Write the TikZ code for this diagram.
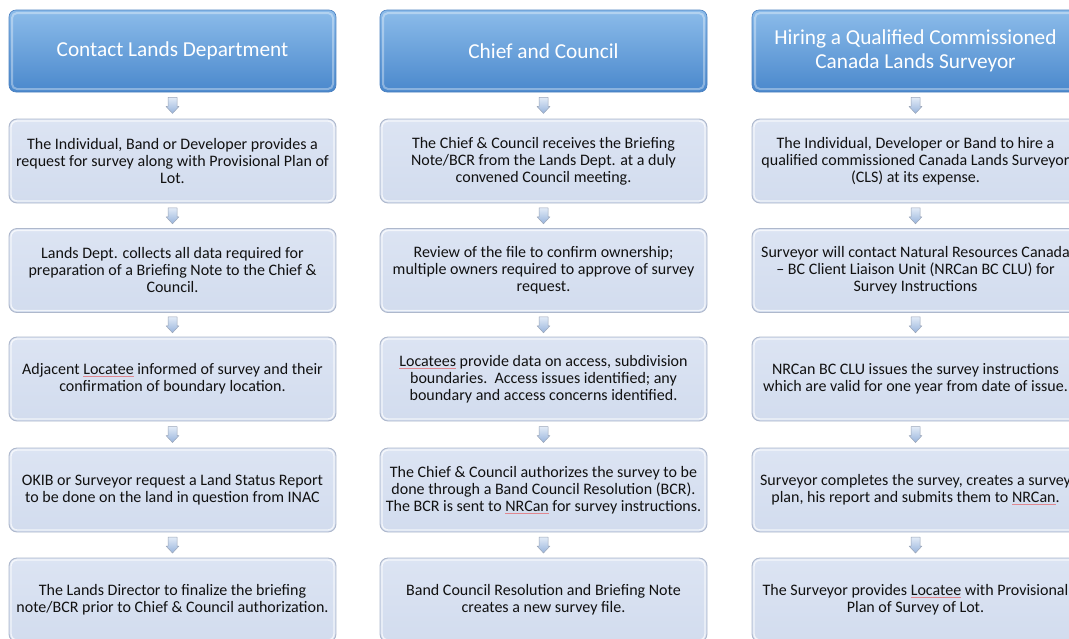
\documentclass[tikz,border=0pt]{standalone}
\usepackage{fontspec}
\setmainfont{Carlito}
\usetikzlibrary{calc}

\definecolor{hdrtop}{HTML}{8CBCEA}
\definecolor{hdrmid}{HTML}{5B9BD6}
\definecolor{hdrbot}{HTML}{4A88CC}
\definecolor{hdredge}{HTML}{4A7FBF}
\definecolor{boxtop}{HTML}{DCE4F3}
\definecolor{boxbot}{HTML}{D2DCEE}
\definecolor{boxedge}{HTML}{AEB8CC}
\definecolor{arrtop}{HTML}{E2EBF7}
\definecolor{arrbot}{HTML}{98B4DC}
\definecolor{arredge}{HTML}{9AA5B8}
\definecolor{spell}{HTML}{E08890}
\definecolor{bodytext}{HTML}{111111}

% faint spell-check underline under flagged words
\newcommand{\flag}[1]{{\color{spell}\underline{\textcolor{bodytext}{#1}}}}

\tikzset{
  header/.style={
    rounded corners=7pt, minimum width=327pt, minimum height=82pt,
    top color=hdrtop, middle color=hdrmid, bottom color=hdrbot,
    draw=hdredge, line width=0.6pt,
    text=white, align=center, inner sep=0pt,
    font=\fontsize{21.3}{24}\selectfont,
    path picture={
      \draw[white, opacity=0.35, line width=2pt, rounded corners=5pt]
        ([shift={(3pt,-3pt)}]path picture bounding box.north west)
        rectangle ([shift={(-3pt,3pt)}]path picture bounding box.south east);
    }
  },
  stepbox/.style={
    rounded corners=8pt, minimum width=327pt, minimum height=84pt,
    top color=boxtop, bottom color=boxbot,
    draw=boxedge, line width=0.9pt,
    text=bodytext, align=center, inner sep=0pt,
    font=\fontsize{16}{17}\selectfont,
    path picture={
      \draw[white, opacity=0.7, line width=1.4pt, rounded corners=6pt]
        ([shift={(2pt,-2pt)}]path picture bounding box.north west)
        rectangle ([shift={(-2pt,2pt)}]path picture bounding box.south east);
    }
  },
  downarrow/.pic={
    \draw[top color=arrtop, bottom color=arrbot, draw=arredge, line width=0.5pt, line join=round]
      (-4.5,-8) -- (4.5,-8) -- (4.5,1) -- (6.5,1) -- (0,8) -- (-6.5,1) -- (-4.5,1) -- cycle;
  }
}

\begin{document}
\begin{tikzpicture}[x=1pt,y=-1pt]
\useasboundingbox (0,0) rectangle (1069,638);
\clip (0,0) rectangle (1069,638);

% column centres: 172.5, 543.5, 915.5
% ---------- column 1 ----------
\node[header]  (h1) at (172.5,51) {Contact Lands Department};
\node[stepbox] (a1) at (172.5,161) {The Individual, Band or Developer provides a\\request for survey along with Provisional Plan of\\Lot.};
\node[stepbox] (a2) at (172.5,270.5) {Lands Dept. collects all data required for\\preparation of a Briefing Note to the Chief \&\\Council.};
\node[stepbox] (a3) at (172.5,379) {Adjacent \flag{Locatee} informed of survey and their\\confirmation of boundary location.};
\node[stepbox] (a4) at (172.5,490) {OKIB or Surveyor request a Land Status Report\\to be done on the land in question from INAC};
\node[stepbox] (a5) at (172.5,600) {The Lands Director to finalize the briefing\\note/BCR prior to Chief \& Council authorization.};

% ---------- column 2 ----------
\node[header]  (h2) at (543.5,51) {Chief and Council};
\node[stepbox] (b1) at (543.5,161) {The Chief \& Council receives the Briefing\\Note/BCR from the Lands Dept. at a duly\\convened Council meeting.};
\node[stepbox] (b2) at (543.5,270.5) {Review of the file to confirm ownership;\\multiple owners required to approve of survey\\request.};
\node[stepbox] (b3) at (543.5,379) {\flag{Locatees} provide data on access, subdivision\\boundaries.\ \ Access issues identified; any\\boundary and access concerns identified.};
\node[stepbox] (b4) at (543.5,490) {The Chief \& Council authorizes the survey to be\\done through a Band Council Resolution (BCR).\\The BCR is sent to \flag{NRCan} for survey instructions.};
\node[stepbox] (b5) at (543.5,600) {Band Council Resolution and Briefing Note\\creates a new survey file.};

% ---------- column 3 ----------
\node[header]  (h3) at (915.5,51) {Hiring a Qualified Commissioned\\Canada Lands Surveyor};
\node[stepbox] (c1) at (915.5,161) {The Individual, Developer or Band to hire a\\qualified commissioned Canada Lands Surveyor\\(CLS) at its expense.};
\node[stepbox] (c2) at (915.5,270.5) {Surveyor will contact Natural Resources Canada\\– BC Client Liaison Unit (NRCan BC CLU) for\\Survey Instructions};
\node[stepbox] (c3) at (915.5,379) {NRCan BC CLU issues the survey instructions\\which are valid for one year from date of issue.};
\node[stepbox] (c4) at (915.5,490) {Surveyor completes the survey, creates a survey\\plan, his report and submits them to \flag{NRCan}.};
\node[stepbox] (c5) at (915.5,600) {The Surveyor provides \flag{Locatee} with Provisional\\Plan of Survey of Lot.};

% ---------- flow arrows between consecutive steps ----------
\foreach \col in {a,b,c}{
  \foreach \ua/\lb in {1/2,2/3,3/4,4/5}{
    \pic at ($(\col\ua.south)!0.5!(\col\lb.north)$) {downarrow};
  }
}
\pic at ($(h1.south)!0.5!(a1.north)$) {downarrow};
\pic at ($(h2.south)!0.5!(b1.north)$) {downarrow};
\pic at ($(h3.south)!0.5!(c1.north)$) {downarrow};
\end{tikzpicture}
\end{document}
